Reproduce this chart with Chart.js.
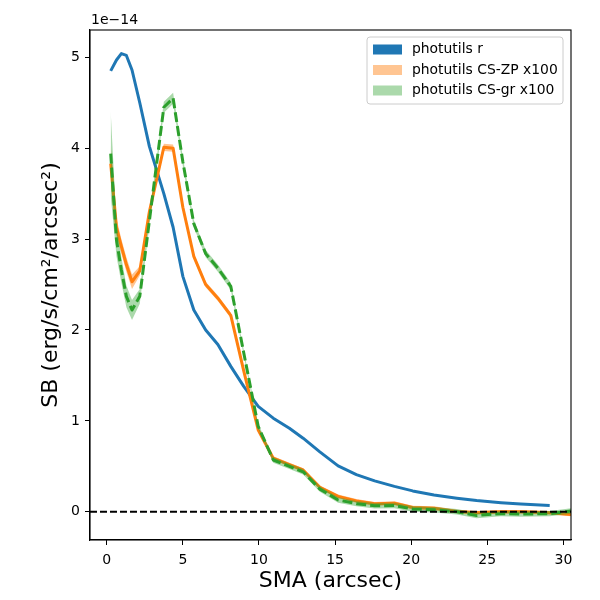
<!DOCTYPE html>
<html lang="en">
<head>
<meta charset="UTF-8">
<script src="https://cdn.jsdelivr.net/npm/chart.js"></script>
<title>SB profile</title>
<style>
  html, body { margin: 0; padding: 0; background: #fff; }
  #wrap { width: 600px; height: 600px; }
</style>
</head>
<body>
<div id="wrap"><canvas id="sbChart" width="600" height="600"></canvas></div>
<script>
// semi-major axis samples (arcsec)
const sma = [0.26, 0.64, 0.96, 1.29, 1.66, 2.17, 2.8, 3.75, 4.36, 5.0, 5.72, 6.5, 7.3, 8.15, 9.0,
             9.95, 10.94, 12.0, 12.9, 14.0, 15.2, 16.4, 17.6, 18.9, 20.1, 21.5, 23.0, 24.3, 25.9,
             27.2, 29.1, 30.5, 31.5];

// surface brightness, units of 1e-14
const sbR = [4.85, 4.97, 5.04, 5.02, 4.86, 4.5, 4.02, 3.5, 3.13, 2.59, 2.22, 2.0, 1.84, 1.6, 1.38,
             1.16, 1.03, 0.92, 0.81, 0.66, 0.505, 0.41, 0.34, 0.28, 0.23, 0.185, 0.15, 0.124, 0.1,
             0.085, 0.07, null, null];

const sbZP = [3.83, 3.13, 2.92, 2.72, 2.53, 2.65, 3.3, 4.01, 4.0, 3.35, 2.81, 2.5, 2.35, 2.16, 1.55,
              0.9, 0.59, 0.52, 0.46, 0.27, 0.17, 0.12, 0.088, 0.095, 0.047, 0.04, 0.004, -0.01, 0.0,
              0.0, -0.01, -0.03, -0.04];
const errZP = [0.2, 0.1, 0.08, 0.08, 0.08, 0.05, 0.04, 0.04, 0.04, 0.03, 0.03, 0.03, 0.03, 0.03, 0.03,
               0.02, 0.02, 0.02, 0.02, 0.02, 0.02, 0.02, 0.02, 0.02, 0.02, 0.02, 0.02, 0.02, 0.02,
               0.02, 0.02, 0.02, 0.02];

const sbGR = [3.94, 2.99, 2.66, 2.37, 2.22, 2.37, 3.2, 4.45, 4.55, 3.85, 3.17, 2.84, 2.68, 2.48, 1.75,
              0.94, 0.57, 0.5, 0.44, 0.25, 0.13, 0.09, 0.066, 0.07, 0.03, 0.023, 0.0, -0.04, -0.02,
              -0.025, -0.02, 0.01, 0.02];
const errGR = [0.46, 0.18, 0.14, 0.12, 0.11, 0.08, 0.06, 0.06, 0.06, 0.05, 0.04, 0.04, 0.04, 0.04, 0.03,
               0.03, 0.03, 0.03, 0.03, 0.03, 0.03, 0.03, 0.03, 0.03, 0.03, 0.03, 0.03, 0.03, 0.03,
               0.03, 0.03, 0.03, 0.03];

const xTicks = [0, 5, 10, 15, 20, 25, 30];
const yTicks = [0, 1, 2, 3, 4, 5];
const xMin = -1.1, xMax = 30.5;
const yMin = -0.31, yMax = 5.3;

const seriesNames = ['photutils r', 'photutils CS-ZP x100', 'photutils CS-gr x100'];
const lineColors = ['#1f77b4', '#ff7f0e', '#2ca02c'];
const bandColors = ['#1f77b4', 'rgba(255,127,14,0.45)', 'rgba(44,160,44,0.4)'];

const FONT = 'DejaVu Sans';

function pts(vals) {
    return sma.map((x, i) => ({ x: x, y: vals[i] })).filter(p => p.y !== null);
}
function shifted(vals, errs, sign) {
    return pts(vals.map((v, i) => v + sign * errs[i]));
}

// frame, offset text and legend box, drawn like matplotlib
const decorations = {
    id: 'decorations',
    afterDraw(chart) {
        const ctx = chart.ctx;
        const a = chart.chartArea;
        ctx.save();

        ctx.strokeStyle = '#000';
        ctx.lineWidth = 1.1;
        ctx.strokeRect(a.left, a.top, a.right - a.left, a.bottom - a.top);

        ctx.fillStyle = '#000';
        ctx.font = '14px "' + FONT + '"';
        ctx.textAlign = 'left';
        ctx.textBaseline = 'alphabetic';
        ctx.fillText('1e\u221214', a.left + 1, a.top - 6);

        // legend
        const bx = a.right - 204, by = a.top + 7, bw = 196, bh = 67;
        ctx.beginPath();
        ctx.roundRect(bx, by, bw, bh, 3);
        ctx.fillStyle = 'rgba(255,255,255,0.8)';
        ctx.fill();
        ctx.strokeStyle = '#cccccc';
        ctx.lineWidth = 1;
        ctx.stroke();

        ctx.font = '13.9px "' + FONT + '"';
        ctx.textBaseline = 'middle';
        seriesNames.forEach((name, i) => {
            const cy = by + 12.5 + i * 20.5;
            ctx.fillStyle = bandColors[i];
            ctx.fillRect(bx + 6, cy - 5, 29, 10);
            ctx.fillStyle = '#000';
            ctx.fillText(name, bx + 45, cy);
        });
        ctx.restore();
    }
};

const lineBase = { pointRadius: 0, tension: 0, borderCapStyle: 'butt', borderJoinStyle: 'round', fill: false };

const chart = new Chart(document.getElementById('sbChart'), {
    type: 'line',
    data: {
        datasets: [
            // 0,1: CS-ZP band
            { ...lineBase, data: shifted(sbZP, errZP, -1), borderWidth: 0, order: 5 },
            { ...lineBase, data: shifted(sbZP, errZP, 1), borderWidth: 0, backgroundColor: bandColors[1], fill: '-1', order: 5 },
            // 2,3: CS-gr band
            { ...lineBase, data: shifted(sbGR, errGR, -1), borderWidth: 0, order: 3 },
            { ...lineBase, data: shifted(sbGR, errGR, 1), borderWidth: 0, backgroundColor: bandColors[2], fill: '-1', order: 3 },
            // lines
            { ...lineBase, label: seriesNames[0], data: pts(sbR), borderColor: lineColors[0], borderWidth: 3, order: 6 },
            { ...lineBase, label: seriesNames[1], data: pts(sbZP), borderColor: lineColors[1], borderWidth: 3, order: 4 },
            { ...lineBase, label: seriesNames[2], data: pts(sbGR), borderColor: lineColors[2], borderWidth: 3, borderDash: [10, 4], order: 2 },
            // zero level
            { ...lineBase, data: [{ x: xMin, y: 0 }, { x: xMax, y: 0 }], borderColor: '#000', borderWidth: 2, borderDash: [7, 3], order: 1 }
        ]
    },
    options: {
        responsive: false,
        animation: false,
        devicePixelRatio: 1,
        layout: { padding: { left: 0, top: 30, right: 29, bottom: 0 } },
        plugins: {
            legend: { display: false },
            tooltip: { enabled: false }
        },
        scales: {
            x: {
                type: 'linear',
                min: xMin,
                max: xMax,
                afterBuildTicks: s => { s.ticks = xTicks.map(v => ({ value: v })); },
                afterFit: s => { s.height = 60; },
                grid: { display: true, drawOnChartArea: false, drawTicks: true, tickLength: 5, color: '#000', tickColor: '#000' },
                border: { display: true, color: '#000', width: 1.1 },
                ticks: { color: '#000', padding: 7, maxRotation: 0, font: { family: FONT, size: 14 } },
                title: {
                    display: true,
                    text: 'SMA (arcsec)',
                    color: '#000',
                    font: { family: FONT, size: 22 },
                    padding: { top: 6, bottom: 6 }
                }
            },
            y: {
                type: 'linear',
                min: yMin,
                max: yMax,
                afterBuildTicks: s => { s.ticks = yTicks.map(v => ({ value: v })); },
                afterFit: s => { s.width = 90; },
                grid: { display: true, drawOnChartArea: false, drawTicks: true, tickLength: 5, color: '#000', tickColor: '#000' },
                border: { display: true, color: '#000', width: 1.1 },
                ticks: { color: '#000', padding: 5, font: { family: FONT, size: 14 } },
                title: {
                    display: true,
                    text: 'SB (erg/s/cm\u00b2/arcsec\u00b2)',
                    color: '#000',
                    font: { family: FONT, size: 22 },
                    padding: { top: 38, bottom: 38 }
                }
            }
        }
    },
    plugins: [decorations]
});
</script>
</body>
</html>
